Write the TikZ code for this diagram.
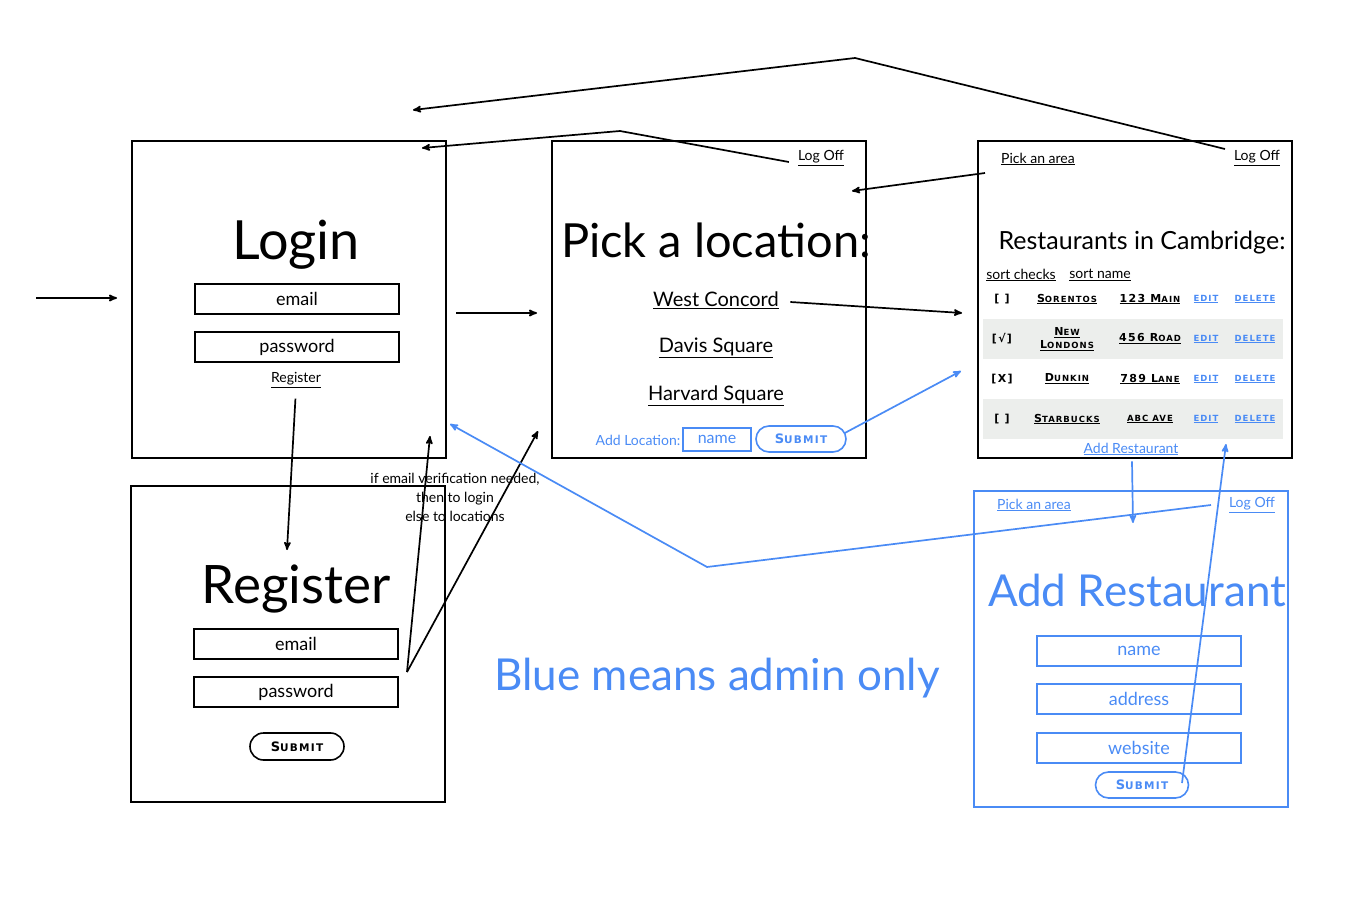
\documentclass[tikz,border=0pt]{standalone}
\usepackage{fontspec}
\setmainfont{Lato}
\newfontfamily\capsfont[LetterSpace=12]{DejaVu Sans}
\usepackage{tikz}
\usetikzlibrary{positioning, arrows, shapes}
\definecolor{azul}{RGB}{74, 139, 245}
\definecolor{gris}{RGB}{236, 238, 236}
\newcommand\btncaps[2]{{\capsfont\bfseries\fontsize{13}{13}\selectfont #1\fontsize{10.5}{10.5}\selectfont #2}}
\newcommand\cellcaps[2]{{\capsfont\bfseries\fontsize{11}{11}\selectfont #1\fontsize{8.5}{8.5}\selectfont #2}}
\newcommand\fsz[1]{\fontsize{#1}{#1}\selectfont}
\tikzset{
    scr/.style={draw, rectangle, line width=2pt, minimum width=314, minimum height=317, inner sep=0pt},
    fld/.style={draw, rectangle, line width=2pt, minimum width=204, minimum height=30, inner sep=0pt, font=\fsz{18}},
    btn/.style={draw, rounded rectangle, line width=1.6pt, minimum width=94, minimum height=27, inner sep=0pt},
    lnk/.style={inner sep=1pt, font=\fsz{14}},
    band/.style={fill=gris, minimum width=300, minimum height=40, inner sep=0pt},
    conn/.style={->, >=stealth', line width=1.7pt},
    adm/.style={draw=azul, text=azul},
}
\begin{document}
\begin{tikzpicture}[x=1pt, y=-1pt]
    \useasboundingbox (0,0) rectangle (1353,912);

    \node[scr] (login) at (289,299.5) {};
    \node[font=\fsz{54}, anchor=base] (ltitle) at (296,260) {Login};
    \node[fld] (lemail) at (297,299) {email};
    \node[fld] (lpass) at (297,347) {password};
    \node[lnk] (reglink) at (296,380) {\underline{Register}};

    \node[scr, minimum height=316] (reg) at (288,644) {};
    \node[font=\fsz{53}, anchor=base] (rtitle) at (296,603) {Register};
    \node[fld] (remail) at (296,644) {email};
    \node[fld] (rpass) at (296,692) {password};
    \node[btn] (rbtn) at (297,746.5) {\btncaps{S}{UBMIT}};
    \node[align=center, font=\fontsize{14}{19}\selectfont] (note) at (455,497) {if email verification needed,\\then to login\\else to locations};

    \node[scr] (loc) at (709,299.5) {};
    \node[lnk] (loclog) at (821,158) {\underline{Log Off}};
    \node[font=\fsz{47}, anchor=base] (ptitle) at (716,258) {Pick a location:};
    \node[font=\fsz{20}] (wc) at (716,300) {\underline{West Concord}};
    \node[font=\fsz{20}] (ds) at (716,348) {\underline{Davis Square}};
    \node[font=\fsz{20}] (hs) at (716,396) {\underline{Harvard Square}};
    \node[lnk, text=azul] (addloc) at (638,440) {Add Location:};
    \node[fld, adm, minimum width=68, minimum height=23, font=\fsz{16}] (locname) at (717,439.5) {name};
    \node[btn, adm, minimum width=90, minimum height=26] (locbtn) at (801,439) {\btncaps{S}{UBMIT}};

    \node[scr] (rest) at (1135,299.5) {};
    \node[lnk] (rpick) at (1038,159) {\underline{Pick an area}};
    \node[lnk] (rlog) at (1257,158) {\underline{Log Off}};
    \node[font=\fsz{25}, anchor=base] (rtitle2) at (1142,250) {Restaurants in Cambridge:};
    \node[lnk] (sortc) at (1021,275) {\underline{sort checks}};
    \node[lnk] (sortn) at (1100,275) {\underline{sort name}};
    \node[band] (band2) at (1133,339) {};
    \node[band] (band4) at (1133,419) {};
    \node (c1) at (1002,299) {\cellcaps{[ ]}{}};
    \node (n1) at (1067,299) {\underline{\cellcaps{S}{ORENTOS}}};
    \node (a1) at (1150,299) {\underline{\cellcaps{123 M}{AIN}}};
    \node[text=azul] (e1) at (1206,299) {\underline{\cellcaps{}{EDIT}}};
    \node[text=azul] (d1) at (1255,299) {\underline{\cellcaps{}{DELETE}}};
    \node (c2) at (1002,339) {\cellcaps{[√]}{}};
    \node[align=center, font=\fontsize{10}{13}\selectfont] (n2) at (1067,339) {\underline{\cellcaps{N}{EW}}\\\underline{\cellcaps{L}{ONDONS}}};
    \node (a2) at (1150,339) {\underline{\cellcaps{456 R}{OAD}}};
    \node[text=azul] (e2) at (1206,339) {\underline{\cellcaps{}{EDIT}}};
    \node[text=azul] (d2) at (1255,339) {\underline{\cellcaps{}{DELETE}}};
    \node (c3) at (1002,379) {\cellcaps{[X]}{}};
    \node (n3) at (1067,379) {\underline{\cellcaps{D}{UNKIN}}};
    \node (a3) at (1150,379) {\underline{\cellcaps{789 L}{ANE}}};
    \node[text=azul] (e3) at (1206,379) {\underline{\cellcaps{}{EDIT}}};
    \node[text=azul] (d3) at (1255,379) {\underline{\cellcaps{}{DELETE}}};
    \node (c4) at (1002,419) {\cellcaps{[ ]}{}};
    \node (n4) at (1067,419) {\underline{\cellcaps{S}{TARBUCKS}}};
    \node (a4) at (1150,419) {\underline{\cellcaps{}{ABC AVE}}};
    \node[text=azul] (e4) at (1206,419) {\underline{\cellcaps{}{EDIT}}};
    \node[text=azul] (d4) at (1255,419) {\underline{\cellcaps{}{DELETE}}};
    \node[lnk, text=azul] (addlink) at (1131,449) {\underline{Add Restaurant}};

    \node[scr, adm, minimum height=316] (add) at (1131,649) {};
    \node[lnk, text=azul] (apick) at (1034,505) {\underline{Pick an area}};
    \node[lnk, text=azul] (alog) at (1252,505) {\underline{Log Off}};
    \node[font=\fsz{44}, text=azul, anchor=base] (atitle) at (1137,606) {Add Restaurant};
    \node[fld, adm] (aname) at (1139,651) {name};
    \node[fld, adm] (aaddr) at (1139,699) {address};
    \node[fld, adm] (aweb) at (1139,748) {website};
    \node[btn, adm, minimum width=93, minimum height=26] (abtn) at (1142,785) {\btncaps{S}{UBMIT}};

    \node[font=\fsz{44}, text=azul, anchor=base] (legend) at (717,690) {Blue means admin only};

    \coordinate (entry) at (36,298);
    \coordinate (toLogin) at (117,298);
    \coordinate (fromLogin) at (456,313);
    \coordinate (toLoc) at (537,313);
    \coordinate (toReg) at (287,550);
    \coordinate (fromReg) at (407,672);
    \coordinate (backLogin) at (430,436);
    \coordinate (backLoc) at (538,431);
    \coordinate (kink1) at (620,131);
    \coordinate (logTop) at (422,148);
    \coordinate (toRest) at (962,313);
    \coordinate (toRest2) at (961,371);
    \coordinate (fromPick) at (985,173);
    \coordinate (toLocTop) at (852,191);
    \coordinate (fromRlog) at (1225,149);
    \coordinate (kink2) at (855,58);
    \coordinate (logTop2) at (413,110);
    \coordinate (toAdd) at (1133,523);
    \coordinate (fromAbtn) at (1182,783);
    \coordinate (toRestBot) at (1226,444);
    \coordinate (fromAlog) at (1211,505);
    \coordinate (kink3) at (707,567);
    \coordinate (toLoginSide) at (450,424);

    \draw[conn] (entry) -- (toLogin);
    \draw[conn] (fromLogin) -- (toLoc);
    \draw[conn, shorten <=10pt] (reglink.south) -- (toReg);
    \draw[conn] (fromReg) -- (backLogin);
    \draw[conn] (fromReg) -- (backLoc);
    \draw[conn] (loclog.west) ++(-8,4) -- (kink1) -- (logTop);
    \draw[conn] (wc.east) ++(8,2) -- (toRest);
    \draw[conn] (fromPick) -- (toLocTop);
    \draw[conn] (fromRlog) -- (kink2) -- (logTop2);
    \draw[conn, azul] (locbtn.east) ++(-2,-6) -- (toRest2);
    \draw[conn, azul] (addlink.south) ++(1,5) -- (toAdd);
    \draw[conn, azul] (fromAbtn) -- (toRestBot);
    \draw[conn, azul] (fromAlog) -- (kink3) -- (toLoginSide);
\end{tikzpicture}
\end{document}
